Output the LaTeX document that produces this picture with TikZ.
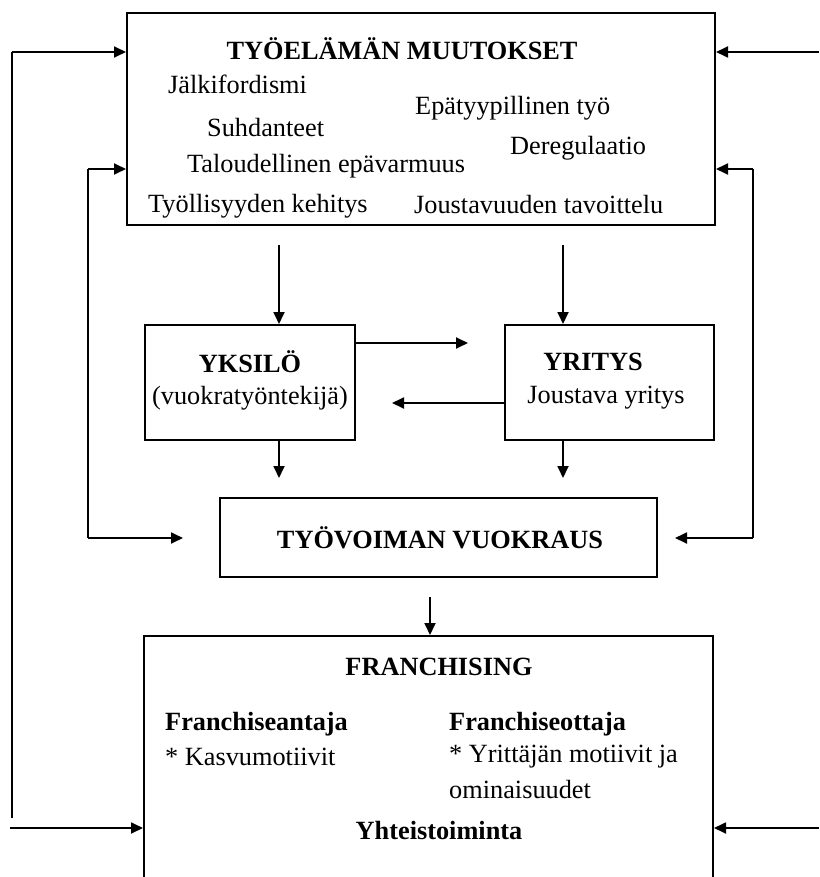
\documentclass[tikz,border=0pt]{standalone}
\usepackage{fontspec}
\setmainfont{Liberation Serif}
\usetikzlibrary{arrows.meta}
\begin{document}
\begin{tikzpicture}[x=1pt,y=-1pt,
  box/.style={draw,line width=2pt,inner sep=0pt},
  ln/.style={line width=1.8pt},
  arr/.style={line width=1.8pt,-{Triangle[length=12pt,width=11pt]}},
  txt/.style={inner sep=0pt,font=\fontsize{26.3}{30}\selectfont},
  btxt/.style={inner sep=0pt,font=\fontsize{26.3}{30}\selectfont\bfseries}]
\useasboundingbox (0,0) rectangle (819,877);
\clip (0,0) rectangle (819,877);
% boxes
\node[box,minimum width=588pt,minimum height=212pt] (top) at (421,119) {};
\node[box,minimum width=210pt,minimum height=115pt] (yk) at (250,382.5) {};
\node[box,minimum width=209pt,minimum height=115pt] (yr) at (609.5,382.5) {};
\node[box,minimum width=437pt,minimum height=79pt] (tv) at (438.5,537.5) {};
\node[box,minimum width=569pt,minimum height=268pt] (fr) at (428.5,770) {};
% top texts
\node[btxt] (t0) at (402,49) {TYÖELÄMÄN MUUTOKSET};
\node[txt,anchor=west] (t1) at (168,84) {Jälkifordismi};
\node[txt,anchor=west] (t2) at (415,108) {Epätyypillinen työ};
\node[txt,anchor=west] (t3) at (207,128) {Suhdanteet};
\node[txt,anchor=west] (t4) at (510,148) {Deregulaatio};
\node[txt,anchor=west] (t5) at (187,166) {Taloudellinen epävarmuus};
\node[txt,anchor=west] (t6) at (148,206) {Työllisyyden kehitys};
\node[txt,anchor=west] (t7) at (414,205) {Joustavuuden tavoittelu};
% middle texts
\node[btxt] (yk1) at (250,362) {YKSILÖ};
\node[txt] (yk2) at (250,398) {(vuokratyöntekijä)};
\node[btxt] (yr1) at (593,362) {YRITYS};
\node[txt] (yr2) at (606,398) {Joustava yritys};
\node[btxt] (tv1) at (440,538) {TYÖVOIMAN VUOKRAUS};
% bottom texts
\node[btxt] (f0) at (439,667) {FRANCHISING};
\node[btxt,anchor=west] (f1) at (165,724) {Franchiseantaja};
\node[txt,anchor=west] (f2) at (165,757) {* Kasvumotiivit};
\node[btxt,anchor=west] (f3) at (449,724) {Franchiseottaja};
\node[txt,anchor=west] (f4) at (449,757) {* Yrittäjän motiivit ja};
\node[txt,anchor=west] (f5) at (449,789) {ominaisuudet};
\node[btxt] (f6) at (439,830) {Yhteistoiminta};
% coordinates
\coordinate (ol1) at (12,52);
\coordinate (ol2) at (12,818);
\coordinate (bl) at (10,828);
\coordinate (il1) at (88,169);
\coordinate (il2) at (88,538);
\coordinate (il3) at (183,538);
\coordinate (or1) at (819,52);
\coordinate (ir1) at (753,169);
\coordinate (ir2) at (753,538);
\coordinate (ir3) at (675,538);
\coordinate (br) at (819,828);
\coordinate (a1) at (279,245);
\coordinate (a2) at (563,245);
\coordinate (h1) at (468,343);
\coordinate (h2) at (392,403);
\coordinate (d1) at (279,478);
\coordinate (d2) at (563,478);
\coordinate (d3) at (430,597);
% connectors
\draw[ln] (ol2) -- (ol1);
\draw[arr] (ol1) -- (top.west |- ol1);
\draw[arr] (bl) -- (fr.west |- bl);
\draw[ln] (il1) -- (il2);
\draw[arr] (il1) -- (top.west |- il1);
\draw[arr] (il2) -- (il3);
\draw[arr] (or1) -- (top.east |- or1);
\draw[ln] (ir1) -- (ir2);
\draw[arr] (ir1) -- (top.east |- ir1);
\draw[arr] (ir2) -- (ir3);
\draw[arr] (br) -- (fr.east |- br);
\draw[arr] (a1) -- (yk.north -| a1);
\draw[arr] (a2) -- (yr.north -| a2);
\draw[arr] (yk.east |- h1) -- (h1);
\draw[arr] (yr.west |- h2) -- (h2);
\draw[arr] (yk.south -| d1) -- (d1);
\draw[arr] (yr.south -| d2) -- (d2);
\draw[arr] (d3) -- (fr.north -| d3);
\end{tikzpicture}
\end{document}
